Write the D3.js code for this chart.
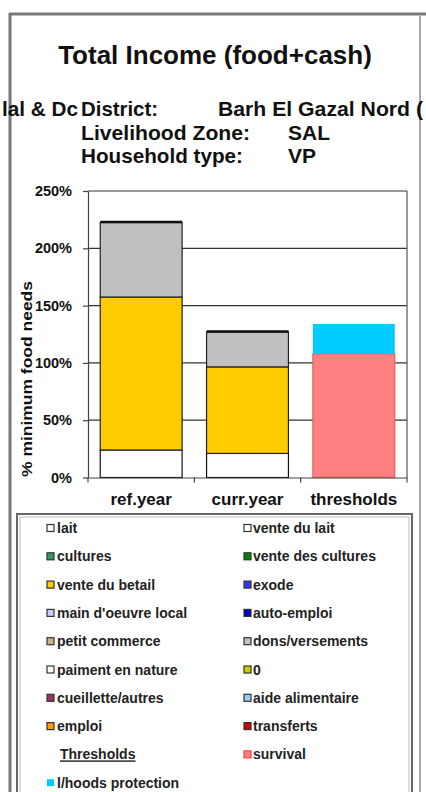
<!DOCTYPE html>
<html><head><meta charset="utf-8">
<script src="https://cdn.jsdelivr.net/npm/d3@7"></script>
<style>body{margin:0;background:#fff;}svg{display:block;font-family:"Liberation Sans",Arial,sans-serif;}</style>
</head><body>
<svg id="c" width="426" height="792"></svg>
<script>
const categories = ["ref.year", "curr.year", "thresholds"];
const seriesNames = ["lait", "vente du betail", "dons/versements", "survival", "l/hoods protection"];
const laitVals = [24, 21, 0];
const venteBetailVals = [133.5, 75.5, 0];
const donsVals = [65, 30.5, 0];
const survivalVals = [0, 0, 108];
const protectionVals = [0, 0, 26];
const yTicks = [0, 50, 100, 150, 200, 250];
const legendLeft = ["lait", "cultures", "vente du betail", "main d'oeuvre local", "petit commerce", "paiment en nature", "cueillette/autres", "emploi", "Thresholds", "l/hoods protection"];
const legendRight = ["vente du lait", "vente des cultures", "exode", "auto-emploi", "dons/versements", "0", "aide alimentaire", "transferts", "survival"];
const legendColors = {
  "lait": "#ffffff", "cultures": "#339966", "vente du betail": "#ffcc00", "main d'oeuvre local": "#ccccff",
  "petit commerce": "#c8b090", "paiment en nature": "#ffffff", "cueillette/autres": "#993366", "emploi": "#ff9900",
  "l/hoods protection": "#00ccff", "vente du lait": "#ffffff", "vente des cultures": "#008000", "exode": "#3333ff",
  "auto-emploi": "#0000cc", "dons/versements": "#c0c0c0", "0": "#cccc00", "aide alimentaire": "#99ccff",
  "transferts": "#cc0000", "survival": "#ff8080"
};

const svg = d3.select("#c");

// outer frame
svg.append("rect").attr("x", 0).attr("y", 0).attr("width", 426).attr("height", 792).attr("fill", "#fff");
svg.append("line").attr("x1", 9).attr("x2", 426).attr("y1", 14).attr("y2", 14).attr("stroke", "#777").attr("stroke-width", 3);
svg.append("line").attr("x1", 10).attr("x2", 10).attr("y1", 13).attr("y2", 792).attr("stroke", "#777").attr("stroke-width", 3);
svg.append("line").attr("x1", 420).attr("x2", 420).attr("y1", 16).attr("y2", 792).attr("stroke", "#555").attr("stroke-width", 1);

// title
svg.append("text").attr("x", 215).attr("y", 64).attr("text-anchor", "middle")
  .attr("font-size", 26).attr("font-weight", "bold").attr("fill", "#111").text("Total Income (food+cash)");

const info = svg.append("g").attr("font-size", 21).attr("font-weight", "bold").attr("fill", "#111");
info.append("text").attr("x", 78).attr("y", 116).attr("text-anchor", "end").attr("textLength", 76).attr("lengthAdjust", "spacingAndGlyphs").text("lal & Dc");
info.append("text").attr("x", 81).attr("y", 116).attr("textLength", 77).attr("lengthAdjust", "spacingAndGlyphs").text("District:");
info.append("text").attr("x", 218).attr("y", 116).attr("textLength", 205).attr("lengthAdjust", "spacingAndGlyphs").text("Barh El Gazal Nord (");
info.append("text").attr("x", 81).attr("y", 140).attr("textLength", 169).attr("lengthAdjust", "spacingAndGlyphs").text("Livelihood Zone:");
info.append("text").attr("x", 288).attr("y", 140).text("SAL");
info.append("text").attr("x", 81).attr("y", 163).attr("textLength", 162).attr("lengthAdjust", "spacingAndGlyphs").text("Household type:");
info.append("text").attr("x", 288).attr("y", 163).text("VP");

// chart
const x0 = 88, x1 = 407;
const x = d3.scaleBand().domain(categories).range([x0, x1]).paddingInner(0.23).paddingOuter(0.115);
const y = d3.scaleLinear().domain([0, 250]).range([477.5, 191]);

const g = svg.append("g");
// gridlines
g.selectAll(".grid").data(yTicks.slice(1)).join("line")
  .attr("x1", x0).attr("x2", x1).attr("y1", d => y(d)).attr("y2", d => y(d))
  .attr("stroke", "#333").attr("stroke-width", 1.2);
g.append("line").attr("x1", x1).attr("x2", x1).attr("y1", y(250)).attr("y2", y(0)).attr("stroke", "#555").attr("stroke-width", 1.2);

// stacks
const rows = categories.map((c, i) => ({
  cat: c,
  "lait": laitVals[i], "vente du betail": venteBetailVals[i], "dons/versements": donsVals[i],
  "survival": survivalVals[i], "l/hoods protection": protectionVals[i]
}));
const stack = d3.stack().keys(seriesNames)(rows);
const fill = {"lait": "#ffffff", "vente du betail": "#ffcc00", "dons/versements": "#c0c0c0", "survival": "#ff8080", "l/hoods protection": "#00ccff"};
const stroke = {"lait": "#111", "vente du betail": "#222", "dons/versements": "#222", "survival": "#e06060", "l/hoods protection": "none"};
stack.forEach(layer => {
  g.selectAll(null).data(layer.filter(d => d[1] - d[0] > 0)).join("rect")
    .attr("x", d => x(d.data.cat)).attr("width", x.bandwidth())
    .attr("y", d => y(d[1])).attr("height", d => y(d[0]) - y(d[1]))
    .attr("fill", fill[layer.key]).attr("stroke", stroke[layer.key]).attr("stroke-width", 1.2);
});
// thick top edge on the income stacks
g.selectAll(".top").data(rows.filter(r => r["lait"] > 0)).join("line")
  .attr("x1", d => x(d.cat)).attr("x2", d => x(d.cat) + x.bandwidth())
  .attr("y1", d => y(d["lait"] + d["vente du betail"] + d["dons/versements"]) - 0.5)
  .attr("y2", d => y(d["lait"] + d["vente du betail"] + d["dons/versements"]) - 0.5)
  .attr("stroke", "#111").attr("stroke-width", 2.5);

// axes
const yAxis = d3.axisLeft(y).tickValues(yTicks).tickFormat(d => d + "%").tickSize(5).tickSizeOuter(0);
const ya = svg.append("g").attr("transform", `translate(${x0},0)`).call(yAxis);
ya.select(".domain").attr("stroke", "#444").attr("stroke-width", 1.2);
ya.selectAll(".tick line").attr("stroke", "#444").attr("stroke-width", 1.2);
ya.selectAll(".tick text").attr("font-size", 14.5).attr("font-weight", "bold").attr("fill", "#111")
  .attr("font-family", "Liberation Sans, Arial, sans-serif").attr("x", -16);

const xAxis = d3.axisBottom(x).tickSize(0).tickSizeOuter(0);
const xa = svg.append("g").attr("transform", `translate(0,${y(0)})`).call(xAxis);
xa.select(".domain").attr("stroke", "#444").attr("stroke-width", 1.2);
xa.selectAll(".tick text").attr("font-size", 17).attr("font-weight", "bold").attr("fill", "#111")
  .attr("font-family", "Liberation Sans, Arial, sans-serif").attr("y", 15);
// category separator ticks
const sepX = [x0].concat(categories.map(c => x(c) + x.bandwidth() + x.step() * x.paddingInner() / 2).slice(0, 2)).concat([x1]);
svg.selectAll(".sep").data(sepX).join("line")
  .attr("x1", d => d).attr("x2", d => d).attr("y1", y(0)).attr("y2", y(0) + 5)
  .attr("stroke", "#444").attr("stroke-width", 1.2);

svg.append("text").attr("transform", `translate(32,379) rotate(-90)`).attr("text-anchor", "middle")
  .attr("font-size", 15).attr("font-weight", "bold").attr("fill", "#111")
  .attr("textLength", 196).attr("lengthAdjust", "spacingAndGlyphs").text("% minimum food needs");

// legend
svg.append("rect").attr("x", 17).attr("y", 514).attr("width", 395).attr("height", 300)
  .attr("fill", "#fff").attr("stroke", "#666").attr("stroke-width", 2);
svg.append("rect").attr("x", 20).attr("y", 517).attr("width", 389).attr("height", 300)
  .attr("fill", "none").attr("stroke", "#bbb").attr("stroke-width", 1);
const rowY = i => 528 + i * 28.3;
const lg = svg.append("g").attr("font-size", 14).attr("font-weight", "bold").attr("fill", "#222");
function legendCol(items, sx, tx) {
  items.forEach((name, i) => {
    const cy = rowY(i);
    if (name === "Thresholds") {
      lg.append("text").attr("x", 60).attr("y", cy + 5).attr("text-decoration", "underline").text(name);
      return;
    }
    lg.append("rect").attr("x", sx).attr("y", cy - 3.5).attr("width", 7).attr("height", 7)
      .attr("fill", legendColors[name])
      .attr("stroke", name === "l/hoods protection" ? "none" : (name === "survival" ? "#ff4040" : "#333")).attr("stroke-width", 1.2);
    lg.append("text").attr("x", tx).attr("y", cy + 5).attr("textLength", name.length > 12 ? null : null).text(name);
  });
}
legendCol(legendLeft, 47, 57);
legendCol(legendRight, 244, 253);
</script>
</body></html>
